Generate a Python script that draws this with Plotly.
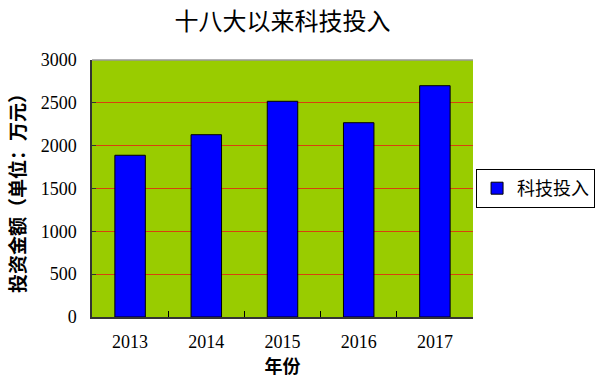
import plotly.graph_objects as go

years = ["2013", "2014", "2015", "2016", "2017"]
values = [1888, 2128, 2518, 2268, 2700]
series_name = "科技投入"
title_text = "十八大以来科技投入"
x_title = "年份"
y_title = "投资金额（单位：万元）"

cjk = "Noto Sans CJK SC"
serif = "Liberation Serif, DejaVu Serif, serif"

fig = go.Figure()
fig.add_trace(go.Bar(
    x=years, y=values, name=series_name,
    marker=dict(color="#0000FF", line=dict(color="#000000", width=1)),
    width=0.4, showlegend=True,
))

fig.update_layout(
    width=600, height=390,
    margin=dict(l=92, r=127, t=60, b=73, autoexpand=False),
    paper_bgcolor="white",
    plot_bgcolor="#99CC00",
    title=dict(text=title_text, x=0.5, xanchor="center", xref="paper",
               y=0.944, yanchor="middle", yref="container",
               font=dict(family=cjk, size=24, color="#000")),
    showlegend=True,
    legend=dict(x=1.008, xanchor="left", y=0.5, yanchor="middle",
                bordercolor="#000", borderwidth=1, bgcolor="white",
                font=dict(family=cjk, size=18, color="#000"),
                itemwidth=30, tracegroupgap=0),
    xaxis=dict(
        type="category", automargin=False,
        showline=True, linecolor="#333", linewidth=1.5,
        ticks="inside", tickson="boundaries", ticklen=6, tickcolor="#000",
        tickfont=dict(family=serif, size=18, color="#000"),
        title=dict(text=x_title, font=dict(family=cjk, size=18, color="#000", weight="bold"), standoff=7),
        showgrid=False,
        ticklabelstandoff=8,
    ),
    yaxis=dict(
        range=[0, 3000], dtick=500, automargin=False,
        showline=True, linecolor="#333", linewidth=1.5,
        ticks="inside", ticklen=4, tickcolor="#333",
        tickfont=dict(family=serif, size=18, color="#000"),
        showgrid=True, gridcolor="#D8400E", gridwidth=1,
        zeroline=False,
        title=dict(text=y_title, font=dict(family=cjk, size=19, color="#000", weight="bold"), standoff=10),
        ticklabelstandoff=10,
    ),
)

fig.add_shape(type="line", xref="paper", yref="paper", x0=0, x1=1, y0=1, y1=1,
              line=dict(color="#999", width=1.5))

fig.write_html("out.html", config={"displayModeBar": False},
               post_script="document.body.style.margin='0';document.body.style.padding='0';")
